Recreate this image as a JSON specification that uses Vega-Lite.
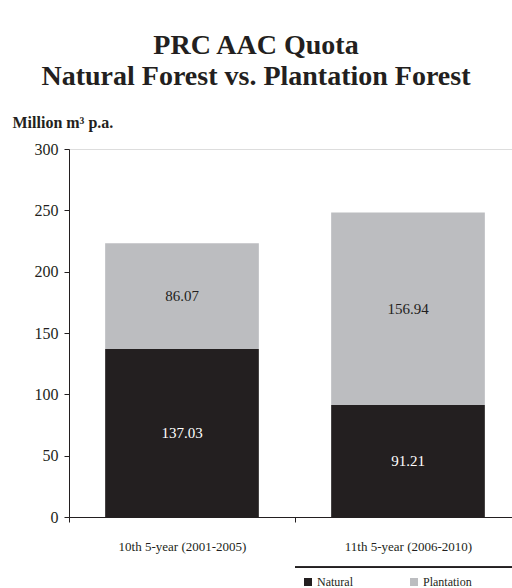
{
  "$schema": "https://vega.github.io/schema/vega-lite/v6.json",
  "autosize": {"type": "none"},
  "padding": {"left": 69, "top": 149, "right": 0, "bottom": 71},
  "width": 443,
  "height": 368,
  "background": "white",
  "title": {
    "text": ["PRC AAC Quota", "Natural Forest vs. Plantation Forest"],
    "font": "Liberation Serif",
    "fontSize": 28,
    "fontWeight": "bold",
    "color": "#231f20",
    "anchor": "middle",
    "frame": "group",
    "dx": -34.5,
    "offset": 23.5,
    "lineHeight": 31
  },
  "data": {
    "values": [
      {"period": "10th 5-year (2001-2005)", "type": "Natural", "value": 137.03},
      {"period": "10th 5-year (2001-2005)", "type": "Plantation", "value": 86.07},
      {"period": "11th 5-year (2006-2010)", "type": "Natural", "value": 91.21},
      {"period": "11th 5-year (2006-2010)", "type": "Plantation", "value": 156.94}
    ]
  },
  "encoding": {
    "x": {
      "field": "period",
      "type": "nominal",
      "sort": null,
      "scale": {"range": [0, 452], "paddingInner": 0, "paddingOuter": 0},
      "axis": {
        "title": null,
        "labelAngle": 0,
        "labelFont": "Liberation Serif",
        "labelFontSize": 13,
        "labelColor": "#231f20",
        "labelPadding": 18,
        "tickBand": "extent",
        "tickSize": 5,
        "tickColor": "#231f20",
        "domainColor": "#231f20",
        "grid": false
      }
    }
  },
  "layer": [
    {
      "mark": {"type": "bar", "width": {"band": 0.68}},
      "encoding": {
        "y": {
          "field": "value",
          "type": "quantitative",
          "stack": "zero",
          "scale": {"domain": [0, 300], "nice": false},
          "axis": {
            "title": "Million m³ p.a.",
            "titleAngle": 0,
            "titleFont": "Liberation Serif",
            "titleFontSize": 16,
            "titleFontWeight": "bold",
            "titleColor": "#231f20",
            "titleAlign": "left",
            "titleBaseline": "alphabetic",
            "titleX": -57,
            "titleY": -22,
            "values": [0, 50, 100, 150, 200, 250, 300],
            "labelFont": "Liberation Serif",
            "labelFontSize": 16,
            "labelColor": "#231f20",
            "labelPadding": 6,
            "tickSize": 5,
            "tickColor": "#231f20",
            "domainColor": "#231f20",
            "grid": false
          }
        },
        "color": {
          "field": "type",
          "type": "nominal",
          "scale": {"domain": ["Natural", "Plantation"], "range": ["#231f20", "#bcbdc0"]},
          "legend": {
            "title": null,
            "orient": "none",
            "direction": "horizontal",
            "legendX": 233,
            "legendY": 427,
            "symbolType": "square",
            "symbolSize": 64,
            "symbolStrokeWidth": 0,
            "symbolOpacity": 1,
            "labelFont": "Liberation Serif",
            "labelFontSize": 12,
            "labelColor": "#231f20",
            "labelOffset": 3,
            "columnPadding": 55
          }
        },
        "order": {"field": "type", "sort": "ascending"}
      }
    },
    {
      "mark": {"type": "text", "font": "Liberation Serif", "fontSize": 15},
      "encoding": {
        "y": {"field": "value", "type": "quantitative", "stack": "zero", "bandPosition": 0.5},
        "text": {"field": "value", "type": "quantitative", "format": ".2f"},
        "color": {
          "condition": {"test": "datum.type === 'Natural'", "value": "white"},
          "value": "#231f20"
        },
        "order": {"field": "type", "sort": "ascending"}
      }
    },
    {
      "mark": {"type": "rule", "color": "#231f20", "strokeWidth": 1.5},
      "encoding": {
        "x": {"datum": "11th 5-year (2006-2010)", "bandPosition": 0},
        "x2": {"datum": "11th 5-year (2006-2010)", "bandPosition": 1},
        "y": {"datum": -41}
      }
    }
  ]
}
